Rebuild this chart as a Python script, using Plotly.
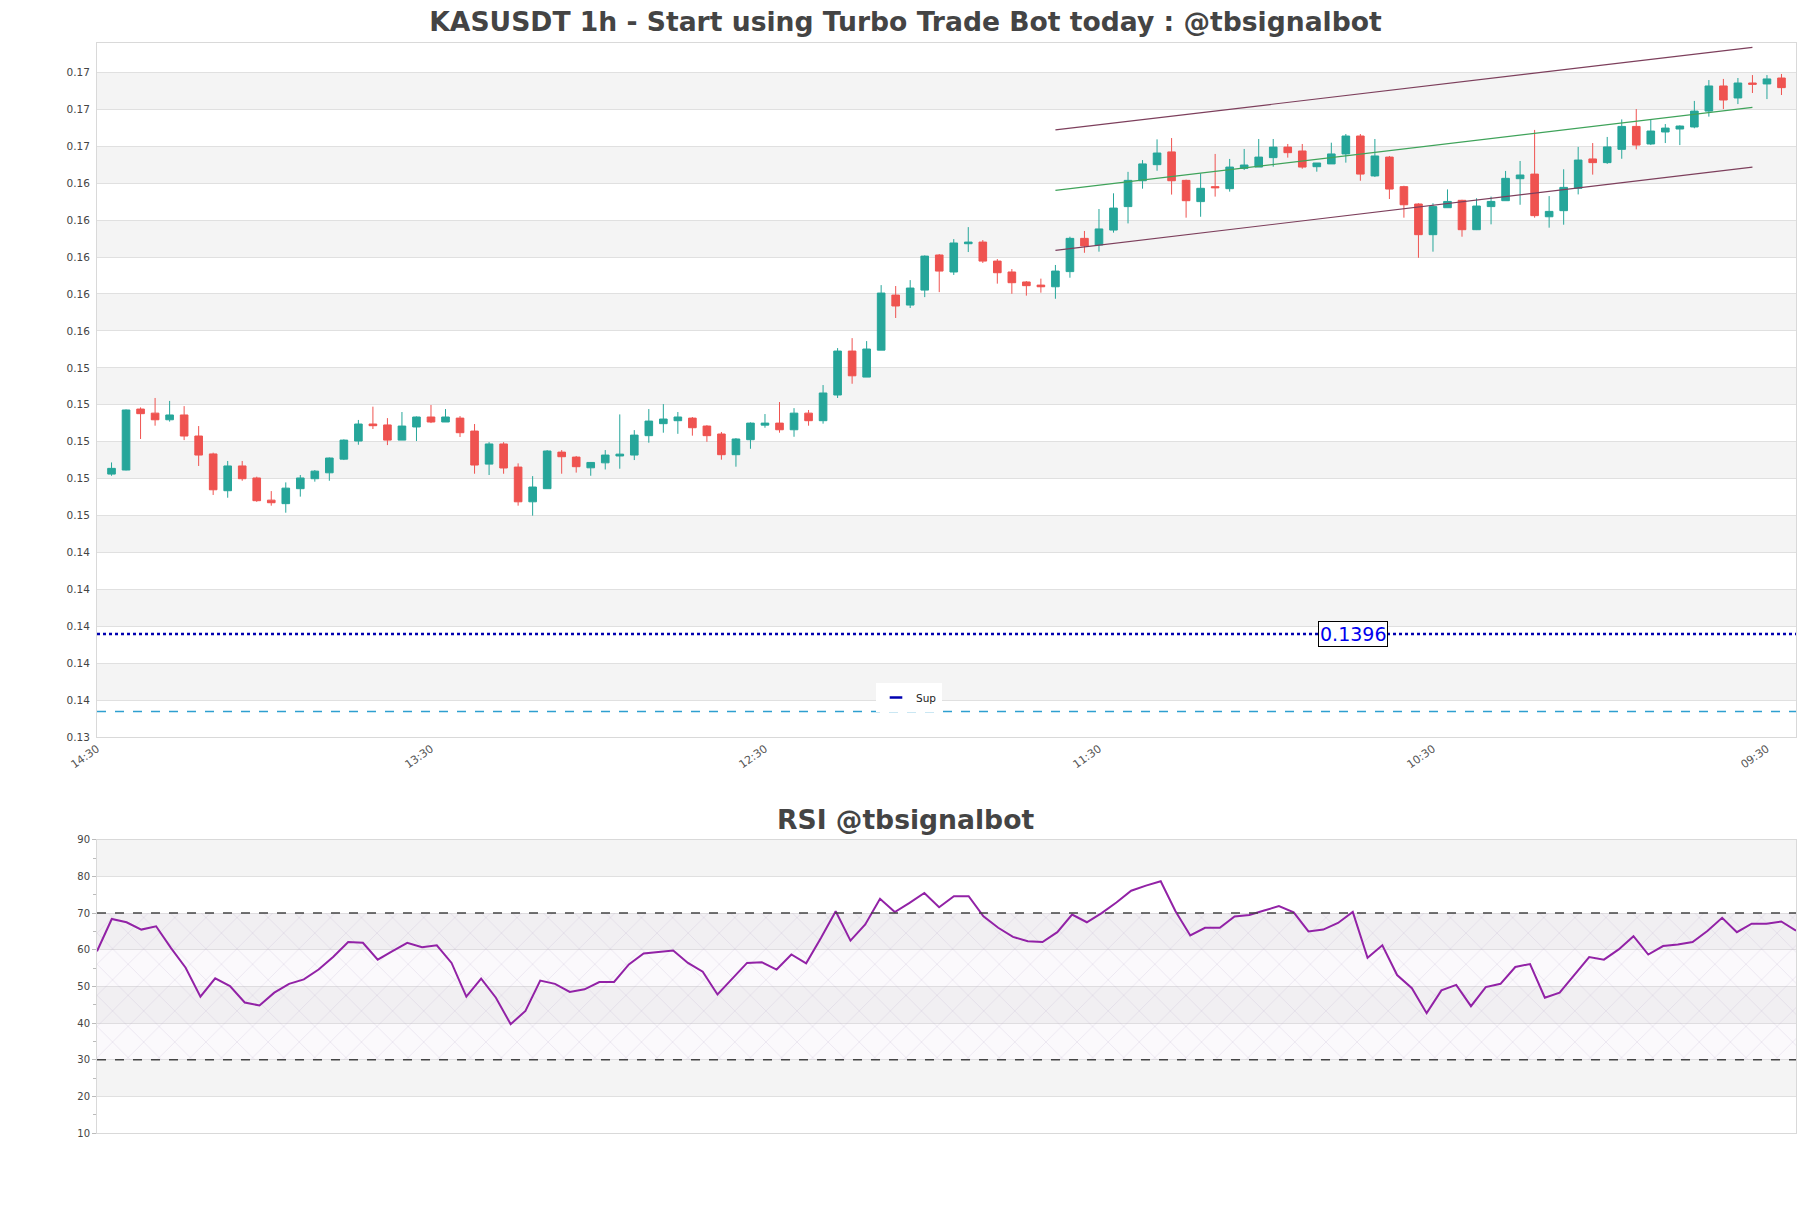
import pandas as pd
import plotly.graph_objects as go

# ---------------- data ----------------
times = pd.date_range("2024-03-01 15:30", periods=116, freq="h")

opens = [0.14825, 0.14847, 0.15177, 0.15155, 0.15119, 0.15145, 0.15031, 0.14934, 0.14735, 0.14869,
         0.14804, 0.14684, 0.14665, 0.14746, 0.14800, 0.14832, 0.14906, 0.15004, 0.15096, 0.15091,
         0.15009, 0.15080, 0.15134, 0.15107, 0.15128, 0.15058, 0.14879, 0.14988, 0.14863, 0.14675,
         0.14746, 0.14944, 0.14917, 0.14859, 0.14886, 0.14923, 0.14928, 0.15033, 0.15098, 0.15114,
         0.15128, 0.15085, 0.15042, 0.14930, 0.15011, 0.15090, 0.15101, 0.15065, 0.15155, 0.15114,
         0.15253, 0.15491, 0.15350, 0.15496, 0.15794, 0.15740, 0.15821, 0.16011, 0.15919, 0.16072,
         0.16081, 0.15978, 0.15919, 0.15865, 0.15848, 0.15839, 0.15921, 0.16101, 0.16065, 0.16146,
         0.16273, 0.16413, 0.16500, 0.16569, 0.16415, 0.16300, 0.16381, 0.16370, 0.16480, 0.16487,
         0.16538, 0.16595, 0.16574, 0.16489, 0.16504, 0.16558, 0.16655, 0.16439, 0.16541, 0.16381,
         0.16287, 0.16121, 0.16267, 0.16307, 0.16148, 0.16273, 0.16305, 0.16424, 0.16449, 0.16218,
         0.16251, 0.16372, 0.16531, 0.16511, 0.16583, 0.16707, 0.16612, 0.16677, 0.16693, 0.16704,
         0.16790, 0.16926, 0.16861, 0.16942, 0.16937, 0.16969]
highs = [0.14888, 0.15175, 0.15186, 0.15237, 0.15221, 0.15193, 0.15085, 0.14941, 0.14896, 0.14896,
         0.14811, 0.14733, 0.14780, 0.14820, 0.14847, 0.14915, 0.15013, 0.15118, 0.15190, 0.15128,
         0.15161, 0.15137, 0.15199, 0.15177, 0.15139, 0.15096, 0.14998, 0.14998, 0.14883, 0.14814,
         0.14955, 0.14955, 0.14923, 0.14890, 0.14955, 0.15148, 0.15063, 0.15177, 0.15204, 0.15161,
         0.15134, 0.15090, 0.15053, 0.15020, 0.15105, 0.15150, 0.15215, 0.15182, 0.15172, 0.15307,
         0.15507, 0.15561, 0.15545, 0.15848, 0.15843, 0.15875, 0.16009, 0.16016, 0.16097, 0.16162,
         0.16092, 0.15989, 0.15935, 0.15870, 0.15883, 0.15957, 0.16110, 0.16141, 0.16260, 0.16345,
         0.16461, 0.16525, 0.16637, 0.16644, 0.16419, 0.16453, 0.16558, 0.16531, 0.16585, 0.16639,
         0.16639, 0.16612, 0.16612, 0.16509, 0.16619, 0.16666, 0.16666, 0.16639, 0.16547, 0.16386,
         0.16291, 0.16291, 0.16366, 0.16310, 0.16318, 0.16327, 0.16466, 0.16520, 0.16688, 0.16330,
         0.16475, 0.16596, 0.16617, 0.16650, 0.16745, 0.16801, 0.16745, 0.16720, 0.16713, 0.16845,
         0.16958, 0.16964, 0.16969, 0.16985, 0.16985, 0.16991]
lows = [0.14816, 0.14845, 0.15015, 0.15087, 0.15109, 0.15009, 0.14869, 0.14712, 0.14697, 0.14789,
        0.14675, 0.14654, 0.14616, 0.14703, 0.14784, 0.14789, 0.14901, 0.14984, 0.15069, 0.14982,
        0.15009, 0.15004, 0.15101, 0.15107, 0.15026, 0.14827, 0.14820, 0.14827, 0.14654, 0.14600,
        0.14746, 0.14827, 0.14833, 0.14816, 0.14850, 0.14854, 0.14901, 0.14995, 0.15049, 0.15043,
        0.15033, 0.15000, 0.14903, 0.14865, 0.14962, 0.15076, 0.15049, 0.15027, 0.15087, 0.15098,
        0.15237, 0.15314, 0.15350, 0.15496, 0.15670, 0.15724, 0.15783, 0.15810, 0.15903, 0.16027,
        0.15968, 0.15856, 0.15801, 0.15791, 0.15807, 0.15774, 0.15888, 0.16023, 0.16029, 0.16132,
        0.16182, 0.16370, 0.16467, 0.16338, 0.16213, 0.16218, 0.16327, 0.16354, 0.16471, 0.16487,
        0.16489, 0.16538, 0.16478, 0.16462, 0.16504, 0.16511, 0.16413, 0.16433, 0.16314, 0.16213,
        0.15996, 0.16029, 0.16267, 0.16110, 0.16146, 0.16177, 0.16305, 0.16283, 0.16213, 0.16159,
        0.16175, 0.16339, 0.16446, 0.16504, 0.16532, 0.16583, 0.16606, 0.16617, 0.16606, 0.16697,
        0.16760, 0.16801, 0.16828, 0.16888, 0.16855, 0.16877]
closes = [0.14856, 0.15172, 0.15152, 0.15119, 0.15145, 0.15031, 0.14928, 0.14740, 0.14869, 0.14800,
          0.14681, 0.14670, 0.14749, 0.14804, 0.14841, 0.14912, 0.15009, 0.15096, 0.15087, 0.15009,
          0.15085, 0.15134, 0.15107, 0.15134, 0.15049, 0.14874, 0.14988, 0.14858, 0.14675, 0.14755,
          0.14950, 0.14919, 0.14865, 0.14888, 0.14928, 0.14933, 0.15036, 0.15112, 0.15123, 0.15134,
          0.15076, 0.15033, 0.14930, 0.15015, 0.15101, 0.15101, 0.15065, 0.15155, 0.15114, 0.15264,
          0.15491, 0.15357, 0.15502, 0.15805, 0.15735, 0.15832, 0.16005, 0.15924, 0.16076, 0.16081,
          0.15978, 0.15915, 0.15861, 0.15845, 0.15839, 0.15924, 0.16101, 0.16060, 0.16152, 0.16265,
          0.16415, 0.16504, 0.16563, 0.16413, 0.16305, 0.16372, 0.16375, 0.16487, 0.16498, 0.16541,
          0.16595, 0.16565, 0.16487, 0.16509, 0.16558, 0.16655, 0.16449, 0.16547, 0.16368, 0.16283,
          0.16121, 0.16273, 0.16301, 0.16148, 0.16276, 0.16301, 0.16426, 0.16444, 0.16224, 0.16247,
          0.16377, 0.16525, 0.16511, 0.16596, 0.16707, 0.16606, 0.16682, 0.16698, 0.16709, 0.16790,
          0.16926, 0.16850, 0.16942, 0.16935, 0.16964, 0.16917]

rsi = [59.6, 68.4, 67.5, 65.5, 66.4, 60.5, 55.1, 47.2, 52.2, 50.1,
       45.6, 44.8, 48.3, 50.7, 51.9, 54.6, 58.1, 62.1, 61.9, 57.3,
       59.6, 61.9, 60.7, 61.2, 56.4, 47.2, 52.1, 46.9, 39.7, 43.3,
       51.6, 50.7, 48.5, 49.2, 51.2, 51.2, 56.0, 59.0, 59.4, 59.8,
       56.4, 54.0, 47.8, 52.1, 56.4, 56.6, 54.6, 58.7, 56.3, 63.2,
       70.5, 62.5, 66.9, 73.9, 70.3, 72.8, 75.5, 71.6, 74.6, 74.6,
       69.1, 66.0, 63.5, 62.3, 62.1, 64.8, 69.6, 67.5, 70.0, 72.9,
       76.1, 77.5, 78.7, 70.5, 63.9, 66.0, 66.0, 69.1, 69.5, 70.7,
       71.9, 70.2, 65.0, 65.5, 67.3, 70.3, 57.8, 61.2, 53.1, 49.5,
       42.7, 48.9, 50.4, 44.6, 49.8, 50.7, 55.3, 56.1, 46.9, 48.3,
       53.0, 58.0, 57.3, 60.1, 63.7, 58.7, 61.0, 61.4, 62.1, 65.1,
       68.7, 64.8, 67.1, 67.1, 67.7, 65.2]

support_level = 0.1396
lower_dashed_level = 0.1354
# channel: start/end candle index and values
channel_idx = [65, 113]
channel_upper = [0.16688, 0.17135]
channel_mid = [0.16361, 0.16810]
channel_lower = [0.16036, 0.16487]
rsi_overbought = 70
rsi_oversold = 30

# ---------------- figure ----------------
one_h = pd.Timedelta(hours=1)
x_start = times[0] - one_h
x_end = times[-1] + one_h
ch_x = [times[channel_idx[0]], times[channel_idx[1]]]

FONT = "DejaVu Sans"
fig = go.Figure()

fig.add_trace(go.Candlestick(
    x=times, open=opens, high=highs, low=lows, close=closes,
    increasing=dict(line=dict(color="#26a69a", width=1), fillcolor="#26a69a"),
    decreasing=dict(line=dict(color="#ef5350", width=1), fillcolor="#ef5350"),
    showlegend=False, xaxis="x", yaxis="y", hoverinfo="skip"))

for vals, col in [(channel_upper, "#7d3f5c"), (channel_mid, "#3fa35a"), (channel_lower, "#7d3f5c")]:
    fig.add_trace(go.Scatter(x=ch_x, y=vals, mode="lines", line=dict(color=col, width=1.2),
                             showlegend=False, xaxis="x", yaxis="y", hoverinfo="skip"))

fig.add_trace(go.Scatter(x=[x_start, x_end], y=[support_level, support_level], mode="lines",
                         line=dict(color="#0000b0", width=2.5, dash="dot"),
                         showlegend=False, xaxis="x", yaxis="y", hoverinfo="skip"))
fig.add_trace(go.Scatter(x=[x_start, x_end], y=[lower_dashed_level, lower_dashed_level], mode="lines",
                         line=dict(color="#2e9fd0", width=1.5, dash="dash"),
                         showlegend=False, xaxis="x", yaxis="y", hoverinfo="skip"))
# legend entry for support
fig.add_trace(go.Scatter(x=[None], y=[None], mode="markers", name="Sup",
                         marker=dict(symbol="line-ew", size=9, line=dict(color="#0000b0", width=2.5)),
                         showlegend=True, xaxis="x", yaxis="y"))

# RSI hatch zone
fig.add_trace(go.Scatter(x=[times[0], times[-1], times[-1], times[0], times[0]],
                         y=[rsi_oversold, rsi_oversold, rsi_overbought, rsi_overbought, rsi_oversold],
                         mode="lines", line=dict(width=0), fill="toself",
                         fillcolor="rgba(200,170,220,0.08)",
                         fillpattern=dict(shape="x", fgcolor="rgba(165,140,190,0.6)",
                                          bgcolor="rgba(215,195,230,0.10)", size=22, solidity=0.05),
                         showlegend=False, xaxis="x2", yaxis="y2", hoverinfo="skip"))
fig.add_trace(go.Scatter(x=times, y=rsi, mode="lines", line=dict(color="#9222a6", width=2),
                         showlegend=False, xaxis="x2", yaxis="y2", hoverinfo="skip"))

shapes = []
# alternating bands in price chart
k = 0
v = 0.134
while v < 0.1705:
    if k % 2 == 1:
        shapes.append(dict(type="rect", xref="x domain", yref="y", x0=0, x1=1, y0=v, y1=v + 0.002,
                           fillcolor="#f4f4f4", line=dict(width=0), layer="below"))
    v += 0.002
    k += 1
for lo in range(20, 90, 20):
    shapes.append(dict(type="rect", xref="x2 domain", yref="y2", x0=0, x1=1, y0=lo, y1=lo + 10,
                       fillcolor="#f4f4f4", line=dict(width=0), layer="below"))
for lvl in (rsi_overbought, rsi_oversold):
    shapes.append(dict(type="line", xref="x2 domain", yref="y2", x0=0, x1=1, y0=lvl, y1=lvl,
                       line=dict(color="#444", width=1.5, dash="dash"), layer="above"))

annotations = [
    dict(text="<b>RSI @tbsignalbot</b>", xref="paper", yref="paper", x=(905.5 - 97) / 1699, y=0.288,
         xanchor="center", yanchor="middle", showarrow=False,
         font=dict(family=FONT, size=26.6, color="#444")),
    dict(text=f"{support_level:.4f}", xref="paper", yref="y", x=0.739, y=support_level,
         xanchor="center", yanchor="middle", showarrow=False,
         font=dict(family=FONT, size=19, color="#0000ee"),
         bgcolor="white", bordercolor="black", borderwidth=1, borderpad=1),
]

axis_common = dict(showline=True, mirror=True, linecolor="#d9d9d9", linewidth=1, zeroline=False)

fig.update_layout(
    width=1811, height=1208,
    margin=dict(l=97, r=15, t=43, b=75),
    paper_bgcolor="white", plot_bgcolor="white",
    font=dict(family=FONT, color="#444"),
    title=dict(text="<b>KASUSDT 1h - Start using Turbo Trade Bot today : @tbsignalbot</b>",
               x=0.5, xanchor="center", y=1 - 22 / 1208, yanchor="middle", yref="container",
               font=dict(family=FONT, size=26.6, color="#444")),
    xaxis=dict(domain=[0, 1], anchor="y", type="date", range=[x_start, x_end],
               tick0=x_start, dtick=23 * 3600 * 1000, tickformat="%H:%M", tickangle=-35,
               tickfont=dict(family=FONT, size=11, color="#555"),
               showgrid=False, rangeslider=dict(visible=False), ticks="", **axis_common),
    yaxis=dict(domain=[0.363, 1], anchor="x", range=[0.134, 0.171586], tick0=0, dtick=0.002,
               tickformat=".2f", showgrid=True, gridcolor="#e0e0e0", ticks="",
               ticklabelstandoff=4, tickfont=dict(family=FONT, size=10.5, color="#444"),
               **axis_common),
    xaxis2=dict(domain=[0, 1], anchor="y2", type="date", range=[times[0], times[-1]],
                showticklabels=False, showgrid=False, ticks="", **axis_common),
    yaxis2=dict(domain=[0, 0.269], anchor="x2", range=[10, 90], dtick=10,
                showgrid=True, gridcolor="#e0e0e0", ticks="outside", ticklen=4, tickcolor="#bbb",
                tickfont=dict(family=FONT, size=10, color="#444"),
                minor=dict(ticks="outside", dtick=5, ticklen=3, tickcolor="#bbb", showgrid=False),
                **axis_common),
    boxgap=0.25,
    showlegend=True,
    legend=dict(x=(876 - 97) / 1699, y=(1133 - 683) / 1090, xanchor="left", yanchor="top",
                bgcolor="white", font=dict(family=FONT, size=10.5, color="#222"), borderwidth=0),
    shapes=shapes, annotations=annotations,
)

fig.write_html("out.html")
